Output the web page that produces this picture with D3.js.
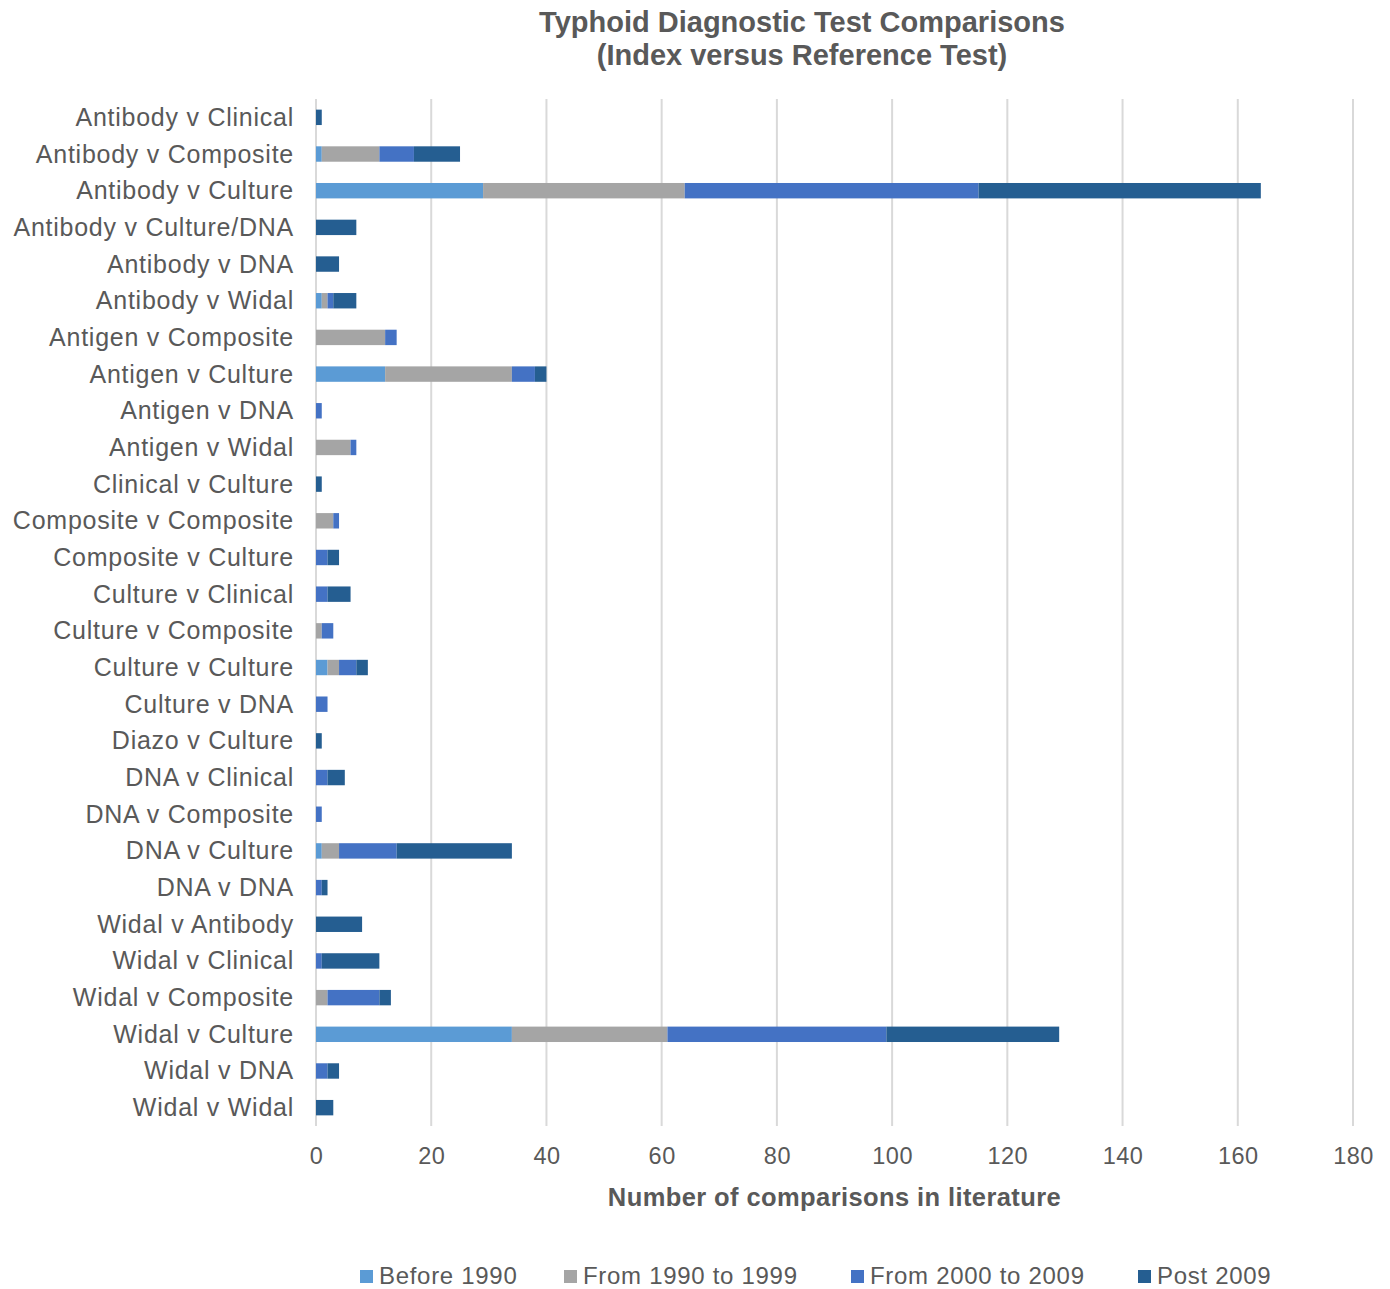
<!DOCTYPE html>
<html><head><meta charset="utf-8">
<script src="https://cdn.jsdelivr.net/npm/d3@7"></script>
<style>body{margin:0;background:#fff}svg{display:block}text{font-family:"Liberation Sans",Arial,sans-serif}</style>
</head><body><svg id="c" width="1390" height="1289"></svg>
<script>
const categories = ["Antibody v Clinical","Antibody v Composite","Antibody v Culture","Antibody v Culture/DNA","Antibody v DNA","Antibody v Widal","Antigen v Composite","Antigen v Culture","Antigen v DNA","Antigen v Widal","Clinical v Culture","Composite v Composite","Composite v Culture","Culture v Clinical","Culture v Composite","Culture v Culture","Culture v DNA","Diazo v Culture","DNA v Clinical","DNA v Composite","DNA v Culture","DNA v DNA","Widal v Antibody","Widal v Clinical","Widal v Composite","Widal v Culture","Widal v DNA","Widal v Widal"];
const seriesNames = ["Before 1990","From 1990 to 1999","From 2000 to 2009","Post 2009"];
const before1990 = [0,1,29,0,0,1,0,12,0,0,0,0,0,0,0,2,0,0,0,0,1,0,0,0,0,34,0,0];
const from1990   = [0,10,35,0,0,1,12,22,0,6,0,3,0,0,1,2,0,0,0,0,3,0,0,0,2,27,0,0];
const from2000   = [0,6,51,0,0,1,2,4,1,1,0,1,2,2,2,3,2,0,2,1,10,1,0,1,9,38,2,0];
const post2009   = [1,8,49,7,4,4,0,2,0,0,1,0,2,4,0,2,0,1,3,0,20,1,8,10,2,30,2,3];
const xTicks = [0,20,40,60,80,100,120,140,160,180];
const colors = ["#5B9BD5","#A5A5A5","#4472C4","#255E91"];

const svg = d3.select("#c");
const L = 316, R = 1353, T = 99, B = 1126;
const x = d3.scaleLinear().domain([0,180]).range([L,R]);
const y = d3.scaleBand().domain(categories).range([T,B]).paddingInner(0.58).paddingOuter(0.29);
const txt = "#595959";

// gridlines
svg.append("g").selectAll("line").data(xTicks).join("line")
  .attr("x1",d=>x(d)).attr("x2",d=>x(d)).attr("y1",T).attr("y2",B)
  .attr("stroke","#D9D9D9").attr("stroke-width",2);

const rows = categories.map((c,i)=>({cat:c, v:[before1990[i],from1990[i],from2000[i],post2009[i]]}));
const data = rows.map(r=>{const o={cat:r.cat}; seriesNames.forEach((s,k)=>o[s]=r.v[k]); return o;});
const stack = d3.stack().keys(seriesNames)(data);
svg.append("g").selectAll("g").data(stack).join("g").attr("fill",(d,i)=>colors[i])
  .selectAll("rect").data(d=>d).join("rect")
  .attr("x",d=>x(d[0])).attr("width",d=>x(d[1])-x(d[0]))
  .attr("y",d=>y(d.data.cat)).attr("height",y.bandwidth());

// y axis labels
const ya = svg.append("g").attr("transform",`translate(${L},0)`).call(d3.axisLeft(y).tickSize(0).tickPadding(22));
ya.select(".domain").remove();
ya.selectAll("text").attr("fill",txt).attr("dy","0.34em").style("font-size","25px").style("letter-spacing","0.75px").style("font-family","'Liberation Sans',Arial,sans-serif");

// x axis
const xa = svg.append("g").attr("transform",`translate(0,${B})`).call(d3.axisBottom(x).tickValues(xTicks).tickSize(0).tickPadding(21));
xa.select(".domain").remove();
xa.selectAll("text").attr("fill",txt).style("font-size","23.5px").style("letter-spacing","0.5px").style("font-family","'Liberation Sans',Arial,sans-serif");

svg.append("text").attr("x",(L+R)/2).attr("y",1206).attr("text-anchor","middle")
  .attr("fill",txt).style("font-size","25.5px").style("letter-spacing","0.4px").style("font-weight","bold").text("Number of comparisons in literature");

// title
const title = svg.append("text").attr("text-anchor","middle").attr("fill",txt).style("font-size","29px").style("font-weight","bold");
title.append("tspan").attr("x",802).attr("y",32).text("Typhoid Diagnostic Test Comparisons");
title.append("tspan").attr("x",802).attr("y",65).text("(Index versus Reference Test)");

// legend
const legX = [360,564,851,1138];
const lg = svg.append("g").selectAll("g").data(seriesNames).join("g").attr("transform",(d,i)=>`translate(${legX[i]},1276)`);
lg.append("rect").attr("x",0).attr("y",-6).attr("width",13).attr("height",13).attr("fill",(d,i)=>colors[i]);
lg.append("text").attr("x",19).attr("y",8).attr("fill",txt).style("font-size","24px").style("letter-spacing","0.7px").text(d=>d);
</script></body></html>
